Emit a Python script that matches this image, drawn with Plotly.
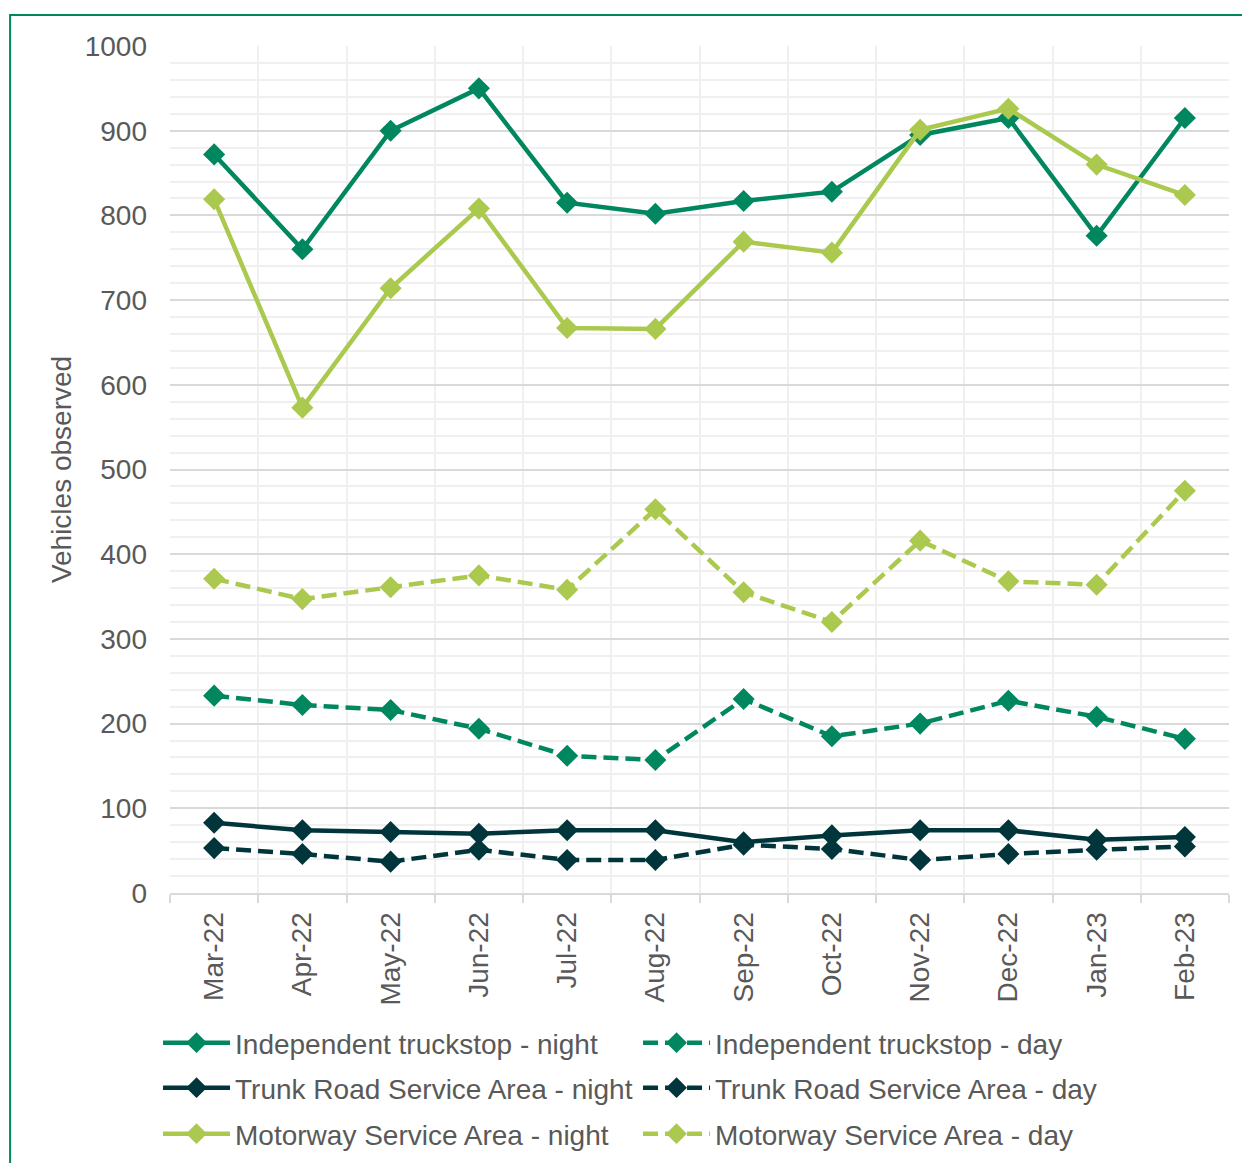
import plotly.graph_objects as go

months = ['Mar-22', 'Apr-22', 'May-22', 'Jun-22', 'Jul-22', 'Aug-22',
          'Sep-22', 'Oct-22', 'Nov-22', 'Dec-22', 'Jan-23', 'Feb-23']

indep_night = [872, 760, 900, 950, 815, 802, 817, 828, 895, 915, 776, 915]
indep_day = [233, 222, 216, 194, 162, 157, 229, 185, 200, 227, 208, 182]
trunk_night = [83, 74, 72, 70, 74, 74, 60, 68, 74, 74, 63, 66]
trunk_day = [53, 46, 37, 51, 39, 39, 57, 52, 39, 46, 51, 55]
motorway_night = [819, 573, 714, 808, 667, 666, 769, 756, 901, 926, 860, 824]
motorway_day = [371, 347, 361, 375, 358, 453, 355, 320, 416, 368, 364, 475]

green = '#00875f'
dark = '#00363b'
light = '#abc94f'
dashed = '15px,7px'

# one legend per row, like the 2 x 3 legend in the original
series = [
    ('Independent truckstop - night', indep_night, green, 'solid', 'legend'),
    ('Independent truckstop - day', indep_day, green, dashed, 'legend'),
    ('Trunk Road Service Area - night', trunk_night, dark, 'solid', 'legend2'),
    ('Trunk Road Service Area - day', trunk_day, dark, dashed, 'legend2'),
    ('Motorway Service Area - night', motorway_night, light, 'solid', 'legend3'),
    ('Motorway Service Area - day', motorway_day, light, dashed, 'legend3'),
]

fig = go.Figure()
for name, vals, col, dash, leg in series:
    fig.add_trace(go.Scatter(x=months, y=vals, name=name, mode='lines+markers',
                             line=dict(color=col, width=4.5, dash=dash),
                             marker=dict(symbol='diamond', size=17, color=col),
                             legend=leg))

font = dict(family='Liberation Sans, Arial', size=28, color='#595959')


def row_legend(y):
    return dict(orientation='h', x=-0.0113, y=y, xanchor='left', yanchor='middle',
                entrywidth=398, entrywidthmode='pixels', traceorder='normal',
                font=font, itemwidth=67, bgcolor='rgba(0,0,0,0)')


fig.update_layout(
    width=1242, height=1155,
    margin=dict(l=162, r=21, t=38, b=270, autoexpand=False),
    paper_bgcolor='white', plot_bgcolor='white',
    font=font,
    showlegend=True,
    legend=row_legend(-0.1771),
    legend2=row_legend(-0.2302),
    legend3=row_legend(-0.2845),
    shapes=[dict(type='rect', xref='paper', yref='paper',
                 x0=-0.151, x1=1.06, y0=-0.35, y1=1.0366,
                 line=dict(color=green, width=2), layer='below')],
)

fig.update_yaxes(range=[0, 1000], dtick=100, showgrid=True, gridcolor='#d9d9d9', gridwidth=2,
                 minor=dict(dtick=20, showgrid=True, gridcolor='#f0f0f0', gridwidth=2),
                 zeroline=False, showline=False, ticks='', ticklabelstandoff=22,
                 title=dict(text='Vehicles observed', font=font, standoff=4),
                 tickfont=font)
fig.update_xaxes(type='category', tickson='boundaries', showgrid=True, gridcolor='#f0f0f0',
                 gridwidth=2, ticks='outside', ticklen=8, tickcolor='#d9d9d9', tickwidth=2,
                 showline=True, linecolor='#d9d9d9', linewidth=2, tickangle=-90,
                 ticklabelstandoff=6, tickfont=font, range=[-0.5, 11.5])

fig.write_html('out.html')
